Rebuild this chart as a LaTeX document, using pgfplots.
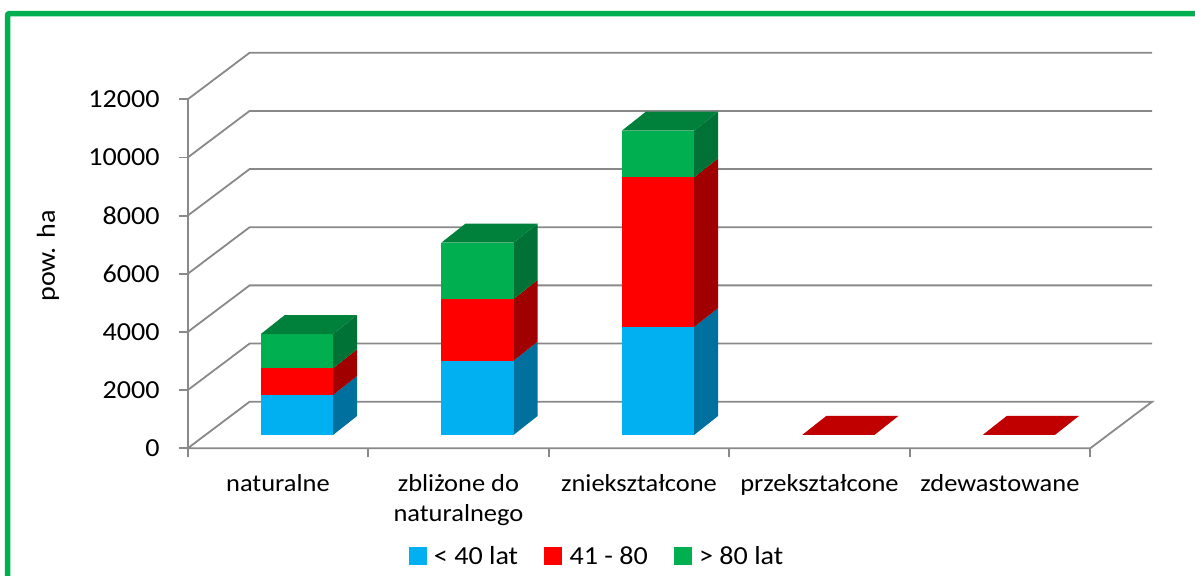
\documentclass[border=0pt]{standalone}
\usepackage{fontspec}
\setmainfont{Carlito}[FakeStretch=1.08]
\usepackage{pgfplots}
\pgfplotsset{compat=1.18}
\definecolor{cblue}{HTML}{00B0F0}
\definecolor{cblueS}{HTML}{00709E}
\definecolor{cred}{HTML}{FF0000}
\definecolor{credS}{HTML}{A00000}
\definecolor{credT}{HTML}{C00000}
\definecolor{cgreen}{HTML}{00B050}
\definecolor{cgreenS}{HTML}{007236}
\definecolor{cgreenT}{HTML}{00813B}
\definecolor{gridgray}{HTML}{898989}
\definecolor{framegreen}{HTML}{00B050}

% one segment of a 3D stacked bar: #1 category, #2 bottom, #3 top, #4 front, #5 side colour
\newcommand\seg[5]{%
  \pgfmathsetmacro\xL{#1+0.405}%
  \pgfmathsetmacro\xR{#1+0.805}%
  \pgfmathsetmacro\xRb{#1+0.938}%
  \pgfmathsetmacro\yb{457+#2}%
  \pgfmathsetmacro\yt{457+#3}%
  \pgfmathsetmacro\ybb{1110+#2}%
  \pgfmathsetmacro\ytb{1110+#3}%
  \addplot[fill=#5,draw=none,forget plot] coordinates {(\xR,\yb) (\xRb,\ybb) (\xRb,\ytb) (\xR,\yt)} --cycle;
  \addplot[fill=#4,draw=none,forget plot] coordinates {(\xL,\yb) (\xR,\yb) (\xR,\yt) (\xL,\yt)} --cycle;
}
% top face: #1 category, #2 value, #3 colour
\newcommand\topface[3]{%
  \pgfmathsetmacro\xL{#1+0.405}%
  \pgfmathsetmacro\xR{#1+0.805}%
  \pgfmathsetmacro\xLb{#1+0.538}%
  \pgfmathsetmacro\xRb{#1+0.938}%
  \pgfmathsetmacro\yt{457+#2}%
  \pgfmathsetmacro\ytb{1110+#2}%
  \addplot[fill=#3,draw=none,forget plot] coordinates {(\xL,\yt) (\xR,\yt) (\xRb,\ytb) (\xLb,\ytb)} --cycle;
}
% stacked bar: #1 category, #2 <40 lat, #3 41-80, #4 >80 lat
\newcommand\stackbar[4]{%
  \pgfmathsetmacro\sA{#2}%
  \pgfmathsetmacro\sB{#2+#3}%
  \pgfmathsetmacro\sC{#2+#3+#4}%
  \seg{#1}{0}{\sA}{cblue}{cblueS}%
  \seg{#1}{\sA}{\sB}{cred}{credS}%
  \seg{#1}{\sB}{\sC}{cgreen}{cgreenS}%
  \topface{#1}{\sC}{cgreenT}%
}

\begin{document}
\begin{tikzpicture}
\path[use as bounding box] (0pt,0pt) rectangle (1195pt,-576pt);
\draw[line width=5.5pt, framegreen, rounded corners=2pt] (7.5pt,-13.5pt) rectangle (1300pt,-700pt);
\begin{axis}[
  at={(187.7pt,-448.3pt)}, anchor=south west,
  scale only axis, width=967.5pt, height=398.4pt,
  xmin=0, xmax=5.36, ymin=0, ymax=13700,
  clip=false,
  scaled y ticks=false,
  axis line style={draw=none},
  tick pos=left,
  tick align=outside,
  major tick length=9pt,
  tick style={draw=gridgray, line width=1.8pt},
  font=\fontsize{26}{31}\selectfont,
  ytick={0,2000,4000,6000,8000,10000,12000},
  yticklabels={0,2000,4000,6000,8000,10000,12000},
  yticklabel style={anchor=east, inner sep=0pt, xshift=-19pt},
  xtick={0,1,2,3,4,5},
  xticklabels={},
  extra x ticks={0.5,1.5,2.5,3.5,4.5},
  extra x tick labels={naturalne,{zbliżone do\\naturalnego},zniekształcone,przekształcone,zdewastowane},
  extra x tick style={major tick length=0pt, tick style={draw=none},
     xticklabel style={align=center, inner sep=0pt, yshift=-26pt, font=\fontsize{24.5}{29.5}\selectfont}},
  ylabel={pow. ha},
  ylabel style={at={(axis description cs:-0.1444,0.4827)}, anchor=center, inner sep=0pt},
  legend style={at={(axis description cs:0.423,-0.270)}, anchor=center, draw=none, fill=none,
     legend columns=3, font=\fontsize{26}{31}\selectfont,
     /tikz/every even column/.append style={column sep=24pt}},
]
% back wall and floor grid lines
\addplot[gridgray, line width=1.8pt, forget plot] coordinates {(5,0) (5.343,1602) (0.343,1602) (0,0) (5,0)};
\addplot[gridgray, line width=1.8pt, forget plot] coordinates {(0,2000) (0.343,3602) (5.343,3602)};
\addplot[gridgray, line width=1.8pt, forget plot] coordinates {(0,4000) (0.343,5602) (5.343,5602)};
\addplot[gridgray, line width=1.8pt, forget plot] coordinates {(0,6000) (0.343,7602) (5.343,7602)};
\addplot[gridgray, line width=1.8pt, forget plot] coordinates {(0,8000) (0.343,9602) (5.343,9602)};
\addplot[gridgray, line width=1.8pt, forget plot] coordinates {(0,10000) (0.343,11602) (5.343,11602)};
\addplot[gridgray, line width=1.8pt, forget plot] coordinates {(0,12000) (0.343,13602) (5.343,13602)};
% vertical axis line
\addplot[gridgray, line width=1.8pt, forget plot] coordinates {(0,0) (0,12000)};
% bars
\stackbar{0}{1375}{919}{1179}
\stackbar{1}{2555}{2122}{1936}
\stackbar{2}{3714}{5148}{1602}
\topface{3}{5}{credT}
\topface{4}{5}{credT}
% legend
\addlegendimage{legend image code/.code={\fill[cblue] (0pt,-8.5pt) rectangle (17pt,8.5pt); \path (23pt,0pt);}}
\addlegendentry{< 40 lat}
\addlegendimage{legend image code/.code={\fill[cred] (0pt,-8.5pt) rectangle (17pt,8.5pt); \path (23pt,0pt);}}
\addlegendentry{41 - 80}
\addlegendimage{legend image code/.code={\fill[cgreen] (0pt,-8.5pt) rectangle (17pt,8.5pt); \path (23pt,0pt);}}
\addlegendentry{> 80 lat}
\end{axis}
\end{tikzpicture}
\end{document}
